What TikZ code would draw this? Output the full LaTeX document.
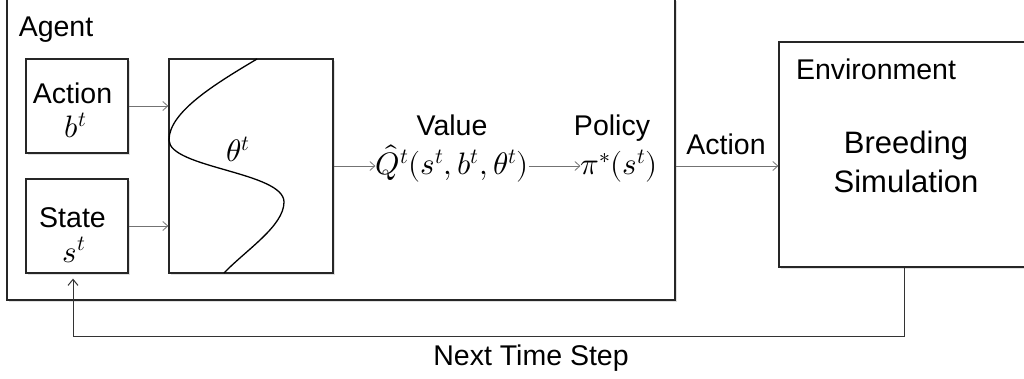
\documentclass[tikz,border=0pt]{standalone}
\usepackage{unicode-math}
\setmainfont{Liberation Sans}
\setmathfont{Latin Modern Math}
\usetikzlibrary{arrows.meta,shadows}
\begin{document}
\begin{tikzpicture}[x=1pt,y=-1pt,
  box/.style={draw=black!85,line width=1.3pt,fill=white,inner sep=0pt,
    drop shadow={shadow xshift=2pt,shadow yshift=-2pt,fill=black!12,opacity=1}},
  lbl/.style={anchor=base,inner sep=0pt,font=\fontsize{28.5pt}{32pt}\selectfont},
  mth/.style={anchor=base,inner sep=0pt,font=\fontsize{31pt}{34pt}\selectfont},
  big/.style={anchor=base,inner sep=0pt,font=\fontsize{31pt}{34pt}\selectfont},
  arr/.style={draw=black!55,line width=0.8pt,-{Straight Barb[length=5pt,width=9pt]}},
  fb/.style={draw=black!80,line width=1pt,-{Straight Barb[length=6pt,width=10pt]}}]
\useasboundingbox (0,0) rectangle (1024,379);
% boxes
\node[box,minimum width=668pt,minimum height=301pt] (agent) at (341,149.5) {};
\node[box,minimum width=251pt,minimum height=225pt] (env) at (904.5,154.5) {};
\node[box,minimum width=102pt,minimum height=94pt] (action) at (77,106) {};
\node[box,minimum width=102pt,minimum height=94pt] (state) at (77,226) {};
\node[box,minimum width=164pt,minimum height=214pt] (theta) at (251,166) {};
% curve inside theta box
\draw[line width=1.3pt,black] (257,59) .. controls (215,84) and (169,112) .. (169,140)
  .. controls (169,168) and (284,172) .. (284,202)
  .. controls (284,226) and (246,250) .. (224,273);
% texts
\node[lbl] (agentlbl) at (56,37) {Agent};
\node[lbl] (actiont) at (72.5,104) {Action};
\node[mth] (actionm) at (76,138) {$b^t$};
\node[lbl] (statet) at (72.5,227) {State};
\node[mth] (statem) at (74,262) {$s^t$};
\node[mth] (thetam) at (238,162) {$\theta^t$};
\node[lbl] (valuet) at (452,136) {Value};
\node[mth] (q) at (452,175) {$\hat{Q}^t(s^t,b^t,\theta^t)$};
\node[lbl] (policyt) at (612,136) {Policy};
\node[mth] (pi) at (619,175) {$\pi^*(s^t)$};
\node[lbl] (actlbl) at (726,155) {Action};
\node[lbl] (envlbl) at (876,80) {Environment};
\node[big] (breed) at (906,154) {Breeding};
\node[big] (sim) at (906,193) {Simulation};
\node[lbl] (next) at (531,365) {Next Time Step};
% connectors
\draw[arr] (action.east) -- (action.east -| theta.west);
\draw[arr] (state.east) -- (state.east -| theta.west);
\draw[arr] (theta.east) -- (theta.east -| q.west);
\draw[arr] (q.east |- theta.east) -- (pi.west |- theta.east);
\draw[arr] (agent.east |- theta.east) -- (env.west |- theta.east);
\draw[fb] (env.south) -- ++(0,69) -| ([yshift=-5pt,xshift=-4pt]state.south);
\end{tikzpicture}
\end{document}
